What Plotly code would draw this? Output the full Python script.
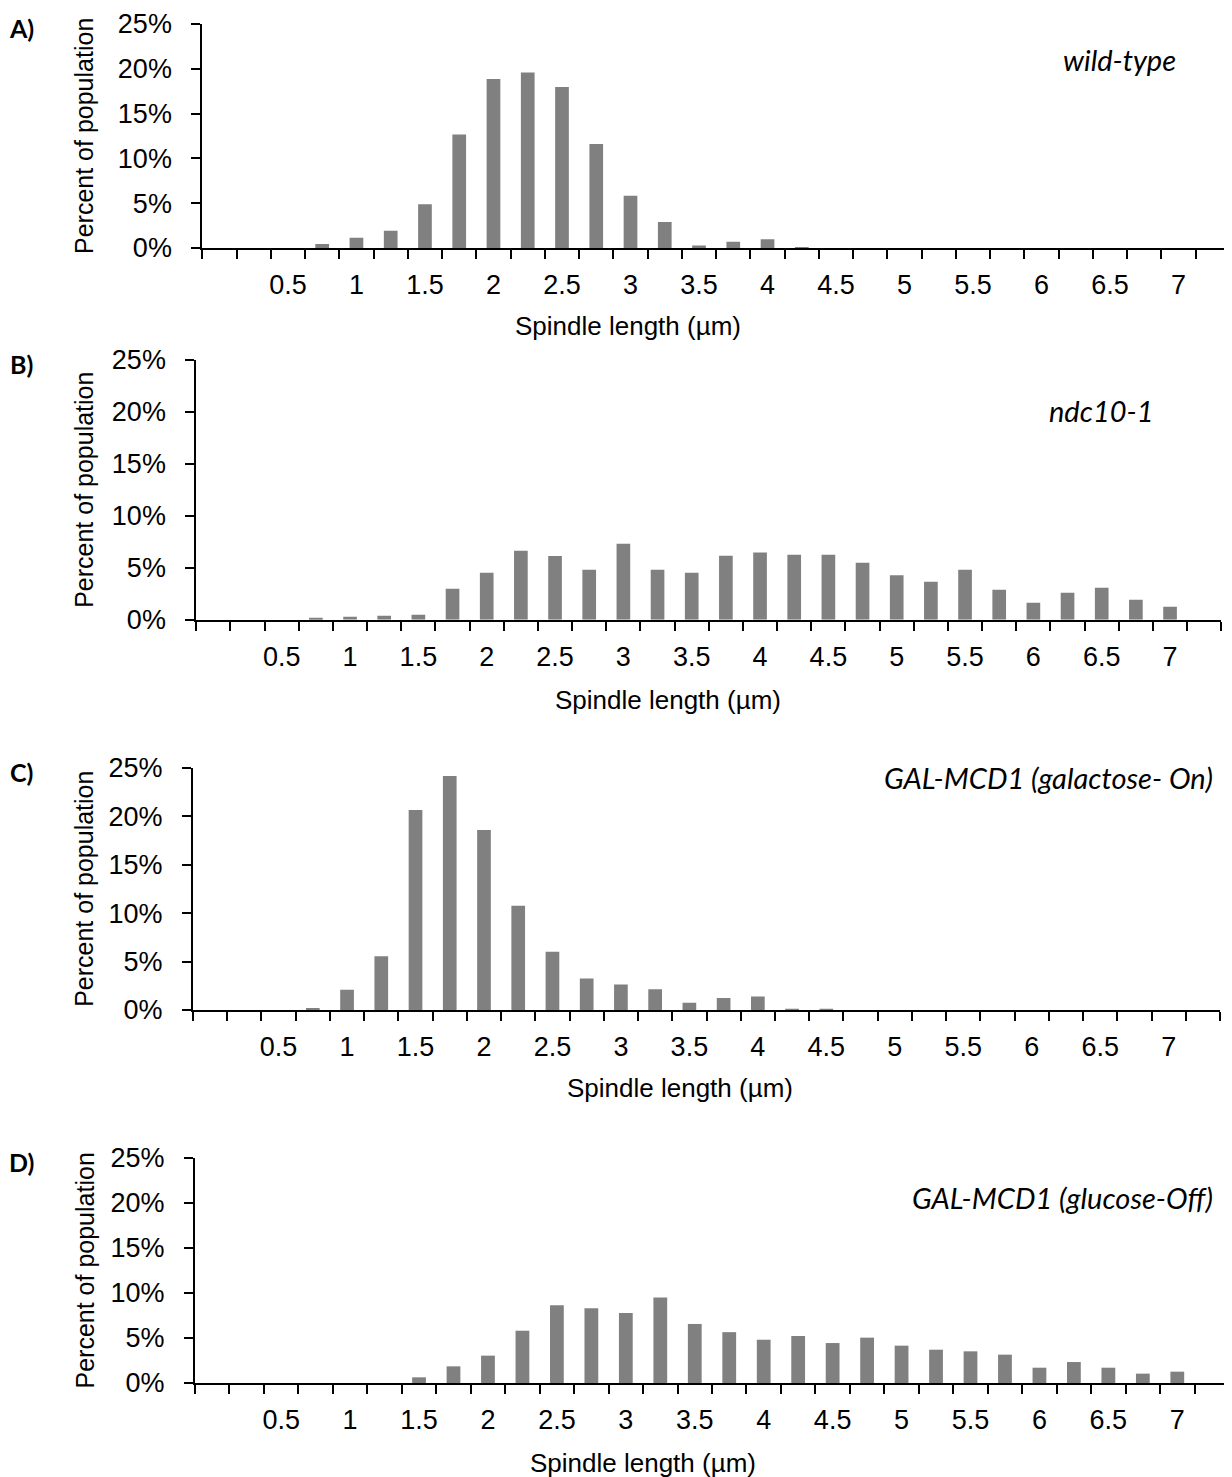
import plotly.graph_objects as go

# page body has an 8px margin: the figure is drawn 8px in from the window edge
OFF = 8
W, H = 1232 - OFF, 1477 - OFF

# ---------------- data ----------------
bins = ["0", "0.25", "0.5", "0.75", "1", "1.25", "1.5", "1.75", "2", "2.25",
        "2.5", "2.75", "3", "3.25", "3.5", "3.75", "4", "4.25", "4.5", "4.75",
        "5", "5.25", "5.5", "5.75", "6", "6.25", "6.5", "6.75", "7", "7.25"]

tick_labels = ["", "", "0.5", "", "1", "", "1.5", "", "2", "",
               "2.5", "", "3", "", "3.5", "", "4", "", "4.5", "",
               "5", "", "5.5", "", "6", "", "6.5", "", "7", ""]

wild_type = [0, 0, 0, 0.45, 1.15, 1.93, 4.87, 12.68, 18.85, 19.6,
             17.96, 11.6, 5.84, 2.9, 0.27, 0.71, 0.97, 0.05, 0, 0,
             0, 0, 0, 0, 0, 0, 0, 0, 0, 0]

ndc10_1 = [0, 0, 0, 0.19, 0.29, 0.39, 0.48, 2.98, 4.52, 6.63,
           6.14, 4.81, 7.32, 4.81, 4.52, 6.16, 6.48, 6.26, 6.26, 5.49,
           4.27, 3.66, 4.81, 2.89, 1.64, 2.6, 3.08, 1.93, 1.25, 0]

gal_on = [0, 0, 0, 0.2, 2.1, 5.55, 20.64, 24.14, 18.58, 10.76,
          6.0, 3.26, 2.64, 2.15, 0.76, 1.25, 1.4, 0.1, 0.05, 0,
          0, 0, 0, 0, 0, 0, 0, 0, 0, 0]

glu_off = [0, 0, 0, 0, 0, 0, 0.63, 1.85, 3.04, 5.81,
           8.63, 8.3, 7.78, 9.5, 6.56, 5.65, 4.81, 5.22, 4.44, 5.04,
           4.15, 3.7, 3.52, 3.15, 1.7, 2.33, 1.7, 1.04, 1.26, 0]

y_tick_vals = [0, 5, 10, 15, 20, 25]
y_tick_text = ["0%", "5%", "10%", "15%", "20%", "25%"]

series = [wild_type, ndc10_1, gal_on, glu_off]
panel_letters = ["A)", "B)", "C)", "D)"]
strain_names = ["wild-type", "ndc10-1", "GAL-MCD1 (galactose- On)", "GAL-MCD1 (glucose-Off)"]
x_title = "Spindle length (µm)"
y_title = "Percent of population"

# ---------------- layout geometry (window pixels) ----------------
panels = [
    dict(x0=202.3, x1=1230.0, y0=24.0, y1=248.0,
         xt=628, xty=326, lab=(1178, 59, "right")),
    dict(x0=196.3, x1=1221.3, y0=360.0, y1=619.7,
         xt=668, xty=700, lab=(1156, 410, "right")),
    dict(x0=193.0, x1=1220.0, y0=767.7, y1=1010.0,
         xt=680, xty=1088, lab=(1215, 777, "right")),
    dict(x0=195.0, x1=1229.0, y0=1158.0, y1=1383.0,
         xt=643, xty=1463, lab=(1215, 1197, "right")),
]


def fx(px):
    return (px - OFF) / W


def fy(py):
    return 1 - (py - OFF) / H


fig = go.Figure()
annotations = []
layout = dict(
    template="none",
    width=W, height=H, autosize=False,
    margin=dict(l=0, r=0, t=0, b=0, pad=0, autoexpand=False),
    paper_bgcolor="white", plot_bgcolor="white",
    showlegend=False,
)

tick_font = dict(family="Arial, Liberation Sans, sans-serif", size=27, color="black")
xtitle_font = dict(family="Arial, Liberation Sans, sans-serif", size=26, color="black")
ytitle_font = dict(family="Arial, Liberation Sans, sans-serif", size=25, color="black")
label_family = "Lato, Open Sans, sans-serif"

for i, (vals, p) in enumerate(zip(series, panels)):
    n = "" if i == 0 else str(i + 1)
    fig.add_trace(go.Bar(
        x=bins, y=vals, xaxis="x" + n, yaxis="y" + n,
        marker=dict(color="#808080", line=dict(width=0)),
        width=0.4, hoverinfo="x+y",
    ))
    layout["xaxis" + n] = dict(
        domain=[fx(p["x0"]), fx(p["x1"])], anchor="y" + n,
        type="category", categoryorder="array", categoryarray=bins,
        range=[-0.5, len(bins) - 0.5], automargin=False,
        tickmode="array", tickvals=bins, ticktext=tick_labels, tickangle=0,
        tickson="boundaries", ticks="outside", ticklen=9, tickwidth=2,
        tickcolor="black", showline=True, linecolor="black", linewidth=2,
        showgrid=False, zeroline=False, tickfont=tick_font,
        ticklabelstandoff=12, fixedrange=True,
    )
    layout["yaxis" + n] = dict(
        domain=[fy(p["y1"]), fy(p["y0"])], anchor="x" + n,
        range=[0, 25], automargin=False,
        tickmode="array", tickvals=y_tick_vals, ticktext=y_tick_text,
        ticks="outside", ticklen=9, tickwidth=2, tickcolor="black",
        showline=True, linecolor="black", linewidth=2,
        showgrid=False, zeroline=False, tickfont=tick_font,
        ticklabelstandoff=14, fixedrange=True,
    )
    annotations.append(dict(
        text="<b>" + panel_letters[i] + "</b>", xref="paper", yref="paper",
        x=fx(22), y=fy(p["y0"] + 4), xanchor="center", yanchor="middle",
        showarrow=False, font=dict(family=label_family, size=25, color="black"),
    ))
    annotations.append(dict(
        text=y_title, xref="paper", yref="paper",
        x=fx(84), y=fy((p["y0"] + p["y1"]) / 2), xanchor="center", yanchor="middle",
        textangle=-90, showarrow=False, font=ytitle_font,
    ))
    annotations.append(dict(
        text=x_title, xref="paper", yref="paper",
        x=fx(p["xt"]), y=fy(p["xty"]), xanchor="center", yanchor="middle",
        showarrow=False, font=xtitle_font,
    ))
    lx, ly, anc = p["lab"]
    annotations.append(dict(
        text="<i>" + strain_names[i] + "</i>", xref="paper", yref="paper",
        x=fx(lx), y=fy(ly), xanchor=anc, yanchor="middle",
        showarrow=False, font=dict(family=label_family, size=29, color="black"),
    ))

layout["annotations"] = annotations
fig.update_layout(**layout)
fig.write_html("out.html")
